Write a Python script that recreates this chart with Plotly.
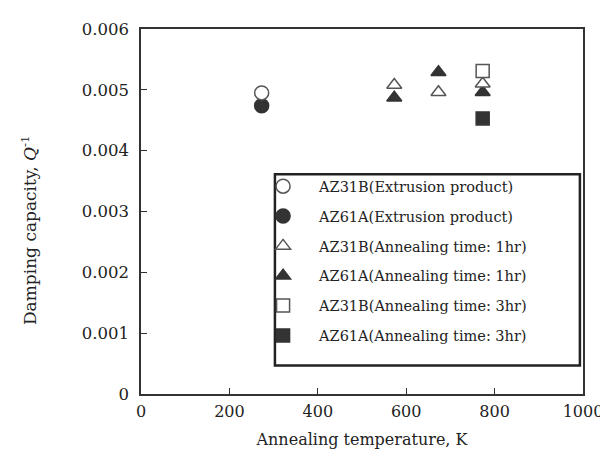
import plotly.graph_objects as go

series_names = [
    "AZ31B(Extrusion product)",
    "AZ61A(Extrusion product)",
    "AZ31B(Annealing time: 1hr)",
    "AZ61A(Annealing time: 1hr)",
    "AZ31B(Annealing time: 3hr)",
    "AZ61A(Annealing time: 3hr)",
]
az31b_ext_x = [273]
az31b_ext_y = [0.00495]
az61a_ext_x = [273]
az61a_ext_y = [0.00474]
az31b_1hr_x = [573, 673, 773]
az31b_1hr_y = [0.00508, 0.00496, 0.00510]
az61a_1hr_x = [573, 673, 773]
az61a_1hr_y = [0.00487, 0.00529, 0.00496]
az31b_3hr_x = [773]
az31b_3hr_y = [0.00531]
az61a_3hr_x = [773]
az61a_3hr_y = [0.00453]

x_ticks = [0, 200, 400, 600, 800, 1000]
y_ticks = [0, 0.001, 0.002, 0.003, 0.004, 0.005, 0.006]
y_tick_labels = ["0", "0.001", "0.002", "0.003", "0.004", "0.005", "0.006"]
x_title = "Annealing temperature, K"
y_title = "Damping capacity, <i>Q</i><sup>-1</sup>"

dark = "#333333"
edge = "#555555"
specs = [
    (az31b_ext_x, az31b_ext_y, "circle", "white", edge, 14),
    (az61a_ext_x, az61a_ext_y, "circle", dark, dark, 14),
    (az31b_1hr_x, az31b_1hr_y, "triangle-up", "white", edge, 13),
    (az61a_1hr_x, az61a_1hr_y, "triangle-up", dark, dark, 13),
    (az31b_3hr_x, az31b_3hr_y, "square", "white", edge, 13),
    (az61a_3hr_x, az61a_3hr_y, "square", dark, dark, 13),
]

fig = go.Figure()
order = [1, 0, 3, 2, 5, 4]
traces = []
for i, (xs, ys, sym, fill, line, size) in enumerate(specs):
    traces.append(go.Scatter(
        x=xs, y=ys, mode="markers", name=series_names[i],
        legendgroup=str(i), legendrank=i + 1,
        marker=dict(symbol=sym, size=size, color=fill,
                    line=dict(color=line, width=1.5)),
    ))
for i in order:
    fig.add_trace(traces[i])

font_family = "DejaVu Serif, serif"
txt = "#222222"
fig.update_layout(
    width=608, height=464,
    margin=dict(l=133, r=33, t=16, b=78),
    paper_bgcolor="white", plot_bgcolor="white",
    font=dict(family=font_family, size=16, color=txt),
    showlegend=True,
    legend=dict(
        x=0.24, y=0.613, xanchor="left", yanchor="top",
        bgcolor="rgba(0,0,0,0)", borderwidth=0,
        font=dict(size=14.5, family=font_family, color=txt),
        tracegroupgap=8, itemwidth=62,
        traceorder="grouped",
    ),
    xaxis=dict(
        range=[0, 1000], tickvals=x_ticks, ticktext=[str(v) for v in x_ticks],
        tickfont=dict(size=16, family=font_family, color=txt),
        ticks="inside", ticklen=6, tickcolor="#333", showline=True,
        linecolor="#333", linewidth=1.5, mirror=True, showgrid=False,
        zeroline=False, ticklabelstandoff=2,
        title=dict(text=x_title, standoff=14,
                   font=dict(size=16, family=font_family, color=txt)),
    ),
    yaxis=dict(
        range=[0, 0.006], tickvals=y_ticks, ticktext=y_tick_labels,
        tickfont=dict(size=16.5, family=font_family, color=txt),
        ticks="inside", ticklen=6, tickcolor="#333", showline=True,
        linecolor="#333", linewidth=1.5, mirror=True, showgrid=False,
        zeroline=False, ticklabelstandoff=7,
    ),
    annotations=[dict(
        text=y_title, xref="paper", yref="paper", x=-0.255, y=0.45,
        xanchor="center", yanchor="middle", textangle=-90, showarrow=False,
        font=dict(size=17, family=font_family, color=txt),
    )],
    shapes=[dict(
        type="rect", xref="paper", yref="paper",
        x0=0.303, x1=0.993, y0=0.078, y1=0.602,
        line=dict(color="#222222", width=2.5), fillcolor="rgba(0,0,0,0)",
    )],
)

fig.write_html("out.html")
